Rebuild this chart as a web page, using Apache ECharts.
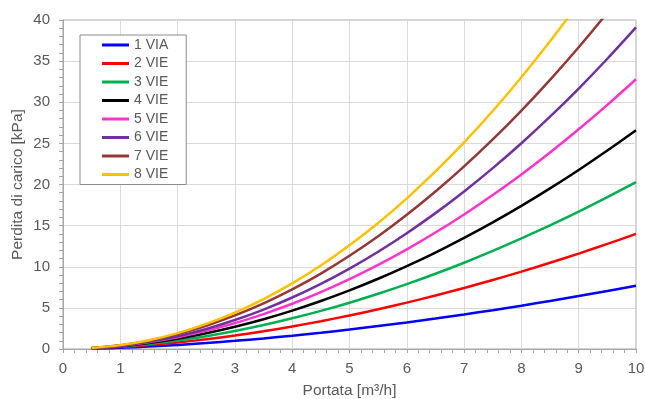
<!DOCTYPE html>
<html>
<head>
<meta charset="utf-8">
<script src="https://cdn.jsdelivr.net/npm/echarts@6/dist/echarts.min.js"></script>
<style>
html,body{margin:0;padding:0;background:#fff;}
#c{width:645px;height:399px;}
</style>
</head>
<body>
<div id="c"></div>
<script>
// Flow rate [m3/h]
var portata = [0.5, 1, 1.5, 2, 2.5, 3, 3.5, 4, 4.5, 5, 5.5, 6, 6.5, 7, 7.5, 8, 8.5, 9, 9.5, 10];
// Pressure drop [kPa]
var via1 = [0.05, 0.15, 0.31, 0.50, 0.73, 0.99, 1.29, 1.62, 1.98, 2.37, 2.79, 3.23, 3.70, 4.20, 4.72, 5.27, 5.84, 6.44, 7.06, 7.70];
var vie2 = [0.07, 0.23, 0.48, 0.80, 1.19, 1.64, 2.16, 2.74, 3.38, 4.08, 4.83, 5.64, 6.50, 7.42, 8.39, 9.41, 10.48, 11.60, 12.78, 14.00];
var vie3 = [0.08, 0.29, 0.61, 1.03, 1.56, 2.19, 2.91, 3.73, 4.63, 5.63, 6.72, 7.89, 9.15, 10.49, 11.92, 13.44, 15.03, 16.70, 18.46, 20.30];
var vie4 = [0.09, 0.34, 0.72, 1.25, 1.91, 2.70, 3.62, 4.67, 5.84, 7.13, 8.54, 10.08, 11.73, 13.51, 15.40, 17.41, 19.53, 21.77, 24.13, 26.60];
var vie5 = [0.10, 0.37, 0.81, 1.42, 2.20, 3.14, 4.24, 5.50, 6.92, 8.49, 10.22, 12.11, 14.16, 16.36, 18.72, 21.23, 23.89, 26.71, 29.68, 32.80];
var vie6 = [0.10, 0.39, 0.88, 1.56, 2.44, 3.52, 4.79, 6.26, 7.92, 9.78, 11.83, 14.08, 16.52, 19.16, 21.99, 25.02, 28.25, 31.67, 35.29, 39.10];
var vie7 = [0.11, 0.45, 1.02, 1.81, 2.83, 4.08, 5.55, 7.25, 9.17, 11.33, 13.70, 16.31, 19.14, 22.20, 25.48, 28.99, 32.73, 36.69, 40.88, 45.30];
var vie8 = [0.11, 0.47, 1.07, 1.93, 3.05, 4.42, 6.07, 7.98, 10.16, 12.61, 15.33, 18.32, 21.59, 25.12, 28.94, 33.04, 37.41, 42.06, 47.00, 52.20];
var seriesNames = ['1 VIA', '2 VIE', '3 VIE', '4 VIE', '5 VIE', '6 VIE', '7 VIE', '8 VIE'];
var seriesColors = ['#0000FF', '#FF0000', '#00B050', '#000000', '#FF33CC', '#7030A0', '#953735', '#FFC000'];
var xTicks = [0, 10, 1];
var yTicks = [0, 40, 5];

var allData = [via1, vie2, vie3, vie4, vie5, vie6, vie7, vie8];
var FONT = 'Liberation Sans';
var series = allData.map(function (arr, i) {
  return {
    name: seriesNames[i],
    type: 'line',
    smooth: 0.3,
    symbol: 'none',
    clip: true,
    color: seriesColors[i],
    lineStyle: { width: 2.5, color: seriesColors[i] },
    data: portata.map(function (x, j) { return [x, arr[j]]; })
  };
});

var chart = echarts.init(document.getElementById('c'), null, { renderer: 'canvas' });
chart.setOption({
  animation: false,
  backgroundColor: '#ffffff',
  textStyle: { fontFamily: FONT },
  grid: { left: 63, right: 9, top: 20, bottom: 50, containLabel: false, outerBoundsMode: 'none', show: true, borderColor: '#a6a6a6', borderWidth: 1, backgroundColor: 'transparent' },
  legend: {
    orient: 'vertical',
    left: 80,
    top: 35,
    padding: [3, 18, 3, 22],
    itemGap: 4.5,
    itemWidth: 27,
    itemHeight: 3,
    icon: 'rect',
    backgroundColor: '#ffffff',
    borderColor: '#8c8c8c',
    borderWidth: 1,
    borderRadius: 0,
    textStyle: { fontFamily: FONT, fontSize: 14, color: '#595959', lineHeight: 14 },
    data: seriesNames.map(function (n, i) { return { name: n, itemStyle: { color: seriesColors[i] } }; })
  },
  xAxis: {
    type: 'value',
    min: xTicks[0], max: xTicks[1], interval: xTicks[2],
    name: 'Portata [m³/h]',
    nameLocation: 'middle',
    nameGap: 34,
    nameMoveOverlap: false,
    nameTextStyle: { fontFamily: FONT, fontSize: 15.5, color: '#595959' },
    axisLine: { show: true, lineStyle: { color: '#a6a6a6', width: 1 } },
    axisTick: { show: true, length: 4, lineStyle: { color: '#a6a6a6' } },
    minorTick: { show: true, splitNumber: 5, length: 4, lineStyle: { color: '#a6a6a6' } },
    axisLabel: { fontFamily: FONT, fontSize: 15, color: '#595959', margin: 12 },
    splitLine: { show: true, lineStyle: { color: '#d9d9d9', width: 1 } }
  },
  yAxis: {
    type: 'value',
    min: yTicks[0], max: yTicks[1], interval: yTicks[2],
    name: 'Perdita di carico [kPa]',
    nameLocation: 'middle',
    nameGap: 37,
    nameMoveOverlap: false,
    nameTextStyle: { fontFamily: FONT, fontSize: 15.5, color: '#595959' },
    axisLine: { show: true, lineStyle: { color: '#a6a6a6', width: 1 } },
    axisTick: { show: true, length: 4, lineStyle: { color: '#a6a6a6' } },
    minorTick: { show: true, splitNumber: 5, length: 4, lineStyle: { color: '#a6a6a6' } },
    axisLabel: { fontFamily: FONT, fontSize: 15, color: '#595959', margin: 13 },
    splitLine: { show: true, lineStyle: { color: '#d9d9d9', width: 1 } }
  },
  series: series
});
</script>
</body>
</html>
